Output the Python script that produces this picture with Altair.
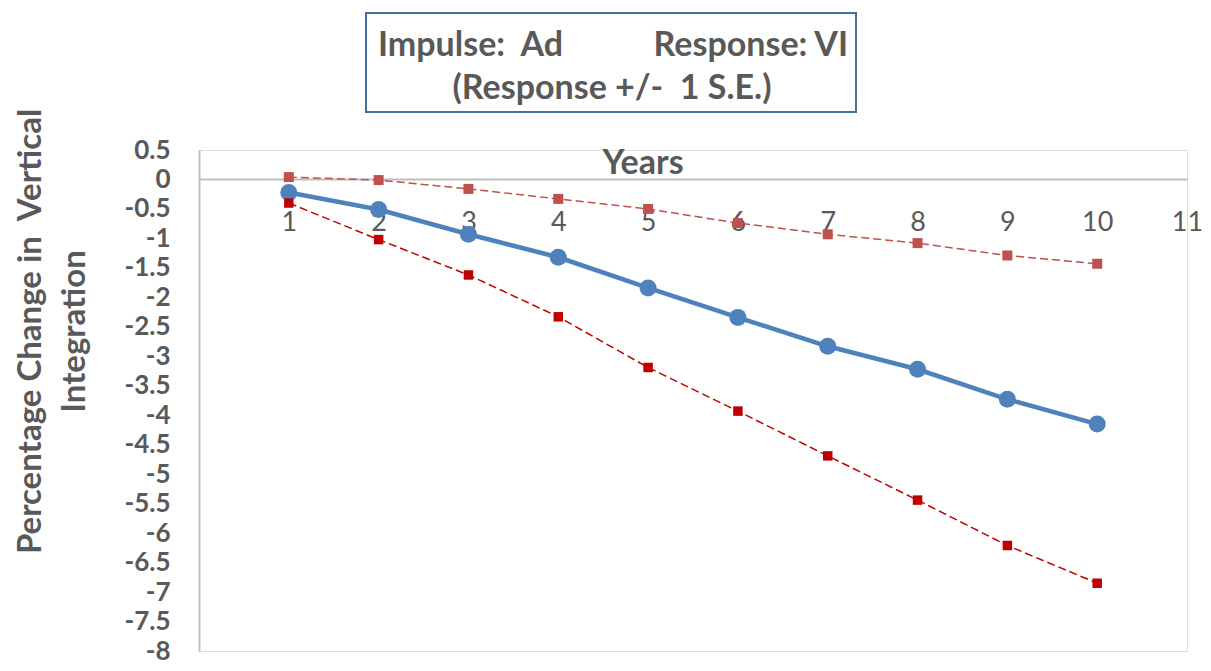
import altair as alt
import pandas as pd

years = [1, 2, 3, 4, 5, 6, 7, 8, 9, 10]
response = [-0.22, -0.51, -0.93, -1.32, -1.84, -2.34, -2.83, -3.22, -3.73, -4.15]
upper = [0.04, -0.01, -0.16, -0.33, -0.50, -0.74, -0.93, -1.08, -1.29, -1.43]
lower = [-0.40, -1.02, -1.62, -2.33, -3.19, -3.93, -4.69, -5.44, -6.21, -6.85]
x_ticks = [1, 2, 3, 4, 5, 6, 7, 8, 9, 10, 11]
y_ticks = [0.5, 0, -0.5, -1, -1.5, -2, -2.5, -3, -3.5, -4, -4.5, -5, -5.5, -6,
           -6.5, -7, -7.5, -8]
title_line1_left = "Impulse:\u00a0 Ad"
title_line1_right = "Response: VI"
title_line2 = "(Response +/-\u00a0 1 S.E.)"
y_title = ["Percentage Change in\u00a0 Vertical", "Integration"]
x_title = "Years"

W, H = 988, 501
TOP = 142
FONT = "Lato"
GRAY = "#595959"

df = pd.DataFrame({"year": years, "response": response, "upper": upper, "lower": lower})

xs = alt.Scale(domain=[0, 11], nice=False, zero=False)
ys = alt.Scale(domain=[-8, 0.5], nice=False, zero=False)
zero_from_bottom = round(H * 8 / 8.5)

x_axis = alt.Axis(values=x_ticks, orient="bottom", offset=-zero_from_bottom, ticks=False, grid=False,
                  domainColor="#BFBFBF", domainWidth=2, labelFont=FONT, labelFontSize=27,
                  labelColor=GRAY, labelPadding=30, title=None, labelFlush=False,
                  labelOverlap=False, labelExpr="toString(datum.value)")
y_axis = alt.Axis(values=y_ticks, ticks=False, grid=False, domainColor="#BFBFBF", domainWidth=2,
                  labelFont=FONT, labelFontSize=26, labelFontWeight="bold", labelColor=GRAY,
                  labelPadding=29, labelExpr="toString(datum.value)", labelFlush=False,
                  labelOverlap=False,
                  title=y_title, titleFont=FONT, titleFontSize=33, titleFontWeight="bold",
                  titleColor=GRAY, titleAngle=-90, titleBaseline="top", titleAlign="center",
                  titleX=-185, titleY=181, titleLineHeight=44)


def enc(field):
    return dict(
        x=alt.X("year:Q", scale=xs, axis=x_axis),
        y=alt.Y(f"{field}:Q", scale=ys, axis=y_axis),
    )


base = alt.Chart(df)

blue_line = base.mark_line(color="#4F81BD", strokeWidth=4.5).encode(**enc("response"))
blue_pts = base.mark_point(shape="circle", filled=True, size=290, color="#4F81BD",
                           opacity=1).encode(**enc("response"))
up_line = base.mark_line(color="#C0504D", strokeWidth=1.5, strokeDash=[8, 4]).encode(**enc("upper"))
up_pts = base.mark_point(shape="square", filled=True, size=100, color="#C0504D",
                         opacity=1).encode(**enc("upper"))
lo_line = base.mark_line(color="#C00000", strokeWidth=1.5, strokeDash=[8, 4]).encode(**enc("lower"))
lo_pts = base.mark_point(shape="square", filled=True, size=90, color="#C00000",
                         opacity=1).encode(**enc("lower"))

one = alt.Chart(pd.DataFrame({"a": [0]}))
box = one.mark_rect(fill="white", stroke="#41719C", strokeWidth=2).encode(
    x=alt.value(167), x2=alt.value(657), y=alt.value(-137), y2=alt.value(-38)
)
txt = dict(font=FONT, fontSize=34, fontWeight="bold", color=GRAY, baseline="middle")
t1a = one.mark_text(text=title_line1_left, align="left", **txt).encode(
    x=alt.value(179), y=alt.value(-104))
t1b = one.mark_text(text=title_line1_right, align="right", **txt).encode(
    x=alt.value(649), y=alt.value(-104))
t2 = one.mark_text(text=title_line2, align="center", **txt).encode(
    x=alt.value(413), y=alt.value(-61))
years_t = one.mark_text(text=x_title, align="center", **txt).encode(
    x=alt.value(444), y=alt.value(14))

chart = alt.layer(
    blue_line, up_line, lo_line, blue_pts, up_pts, lo_pts, box, t1a, t1b, t2, years_t
).properties(
    width=W, height=H,
    autosize=alt.AutoSizeParams(type="none"),
    padding={"left": 191, "top": TOP, "right": 16, "bottom": 12},
).configure_view(stroke=None).configure(background="white")

chart.save("out.html", embed_options={"renderer": "svg", "actions": False})
